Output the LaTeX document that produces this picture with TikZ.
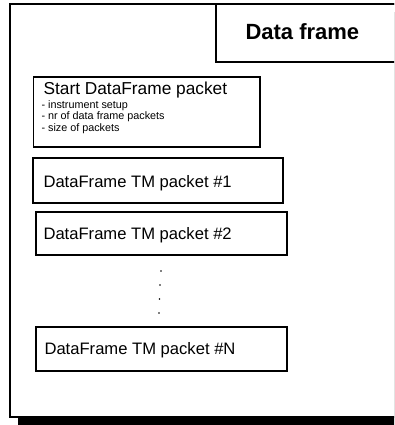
\documentclass[tikz,border=0pt]{standalone}
\usepackage{fontspec}
\setmainfont{Liberation Sans}

\tikzset{
    pktbox/.style={draw, line width=1.2pt},
    pkttext/.style={anchor=base west, font=\fontsize{16.6}{20}\selectfont},
    itemtext/.style={anchor=base west, font=\fontsize{10.8}{12}\selectfont},
}

\begin{document}
\begin{tikzpicture}[x=1pt,y=-1pt]
    \useasboundingbox (0,0) rectangle (394,425);
    \clip (0,0) rectangle (394,425);

    % outer frame and its shadow
    \coordinate (f1) at (10,4);
    \coordinate (f2) at (404,417);
    \fill ([shift={(8,8)}]f1) rectangle ([shift={(8,8)}]f2);
    \draw [line width=1.5pt, fill=white] (f1) rectangle (f2);

    % title corner
    \coordinate (t1) at (216,4);
    \coordinate (t2) at (404,62);
    \draw [line width=1.3pt] (t1) rectangle (t2);
    \node [anchor=base west, font=\bfseries\fontsize{22}{26}\selectfont] (title) at (242,40) {Data frame};

    % start packet
    \coordinate (s1) at (33.5,77);
    \coordinate (s2) at (260,147);
    \draw [pktbox] (s1) rectangle (s2);
    \node [pkttext, font=\fontsize{17.3}{20}\selectfont] (start) at (40,95) {Start DataFrame packet};
    \node [itemtext] (setup) at (38,108) {- instrument setup};
    \node [itemtext] (nrpk) at (38,119.5) {- nr of data frame packets};
    \node [itemtext] (sizepk) at (38,131) {- size of packets};

    % packet #1
    \coordinate (a1) at (33,158);
    \coordinate (a2) at (283,203);
    \draw [pktbox] (a1) rectangle (a2);
    \node [pkttext] (pk1) at (40,187) {DataFrame TM packet \#1};

    % packet #2
    \coordinate (b1) at (36,212);
    \coordinate (b2) at (287,255);
    \draw [pktbox] (b1) rectangle (b2);
    \node [pkttext] (pk2) at (40,239) {DataFrame TM packet \#2};

    % dots
    \fill (161,271) circle (0.9);
    \fill (160,285) circle (0.9);
    \fill (159.5,299) circle (0.9);
    \fill (159,313) circle (0.9);

    % packet #N
    \coordinate (n1) at (36,327);
    \coordinate (n2) at (287,371);
    \draw [pktbox] (n1) rectangle (n2);
    \node [pkttext] (pkN) at (41,354) {DataFrame TM packet \#N};

\end{tikzpicture}
\end{document}
